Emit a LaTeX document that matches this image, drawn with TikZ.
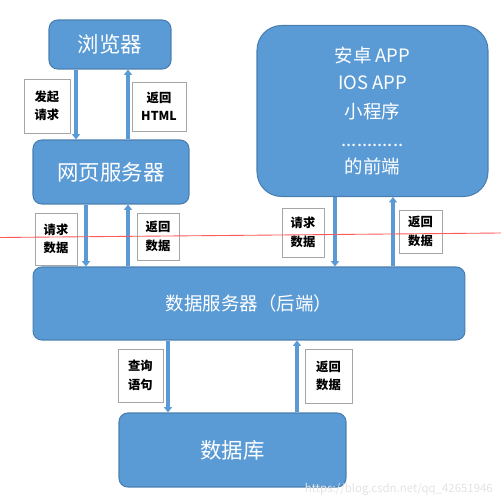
\documentclass[tikz,border=0pt]{standalone}
\usepackage{fontspec}
\setmainfont{Noto Sans CJK SC}
\usepackage{tikz}
\usetikzlibrary{arrows.meta}

\definecolor{boxblue}{HTML}{5B9BD5}
\definecolor{boxedge}{HTML}{4A7EB0}

\begin{document}
\begin{tikzpicture}[x=0.02cm, y=-0.02cm,
    blk/.style={fill=boxblue, draw=boxedge, line width=0.6pt, rounded corners=5pt,
      text=white, font=\fontsize{12.2}{14}\selectfont, inner sep=0pt},
    tag/.style={fill=white, draw=gray!70, line width=0.4pt, inner sep=0pt,
      align=center, font=\fontsize{7}{10.5}\selectfont\bfseries},
    flow/.style={draw=boxblue, line width=2.4pt,
      -{Triangle[width=4.5pt, length=3pt]}, shorten >=0pt}]
        \useasboundingbox (0,0) rectangle (501,500);

        % boxes
        \node[blk, minimum width=2.44cm, minimum height=0.98cm] (Browser) at (110, 44.5) {浏览器};
        \node[blk, minimum width=3.12cm, minimum height=1.28cm] (Web) at (111, 172) {网页服务器};
        \node[blk, rounded corners=14pt, minimum width=4.62cm, minimum height=3.42cm,
          align=center, font=\fontsize{10.5}{15}\selectfont] (Front) at (372.5, 111)
          {安卓 APP\\IOS APP\\[2pt]小程序\\[1pt]............\\的前端};
        \node[blk, font=\fontsize{10.5}{14}\selectfont, minimum width=8.64cm,
          minimum height=1.46cm] (Server) at (249, 303.5) {数据服务器（后端）};
        \node[blk, minimum width=4.54cm, minimum height=1.48cm] (DB) at (232.5, 450) {数据库};

        % arrow columns
        \coordinate (c1) at (76, 0);
        \coordinate (c2) at (128, 0);
        \coordinate (c3) at (86, 0);
        \coordinate (c4) at (335, 0);
        \coordinate (c5) at (393, 0);
        \coordinate (c6) at (168, 0);
        \coordinate (c7) at (297, 0);

        \draw[flow] (Browser.south -| c1) to (Web.north -| c1);
        \draw[flow] (Web.north -| c2) to (Browser.south -| c2);
        \draw[flow] (Web.south -| c3) to (Server.north -| c3);
        \draw[flow] (Server.north -| c2) to (Web.south -| c2);
        \draw[flow] (Front.south -| c4) to (Server.north -| c4);
        \draw[flow] (Server.north -| c5) to (Front.south -| c5);
        \draw[flow] (Server.south -| c6) to (DB.north -| c6);
        \draw[flow] (DB.north -| c7) to (Server.south -| c7);

        % labels
        \node[tag, minimum width=0.92cm, minimum height=1.08cm] (T1) at (47, 106) {发起\\请求};
        \node[tag, minimum width=1.08cm, minimum height=0.98cm] (T2) at (159, 106.5) {返回\\HTML};
        \node[tag, minimum width=0.84cm, minimum height=1.04cm] (T3) at (56, 239) {请求\\数据};
        \node[tag, minimum width=0.84cm, minimum height=0.94cm] (T4) at (158, 236.5) {返回\\数据};
        \node[tag, minimum width=0.84cm, minimum height=0.98cm] (T5) at (303, 232.5) {请求\\数据};
        \node[tag, minimum width=0.86cm, minimum height=0.86cm] (T6) at (420.5, 231.5) {返回\\数据};
        \node[tag, minimum width=0.90cm, minimum height=1.06cm] (T7) at (140.5, 375.5) {查询\\语句};
        \node[tag, minimum width=0.94cm, minimum height=1.08cm] (T8) at (328.5, 376) {返回\\数据};

        % red guide line and watermark
        \draw[red!65, line width=0.5pt] (0, 237.5) -- (501, 233);
        \node[text=gray!22, font=\fontsize{6.5}{8}\selectfont, anchor=east] (Mark) at (499, 489)
          {https://blog.csdn.net/qq\_42651946};

      \end{tikzpicture}
\end{document}
